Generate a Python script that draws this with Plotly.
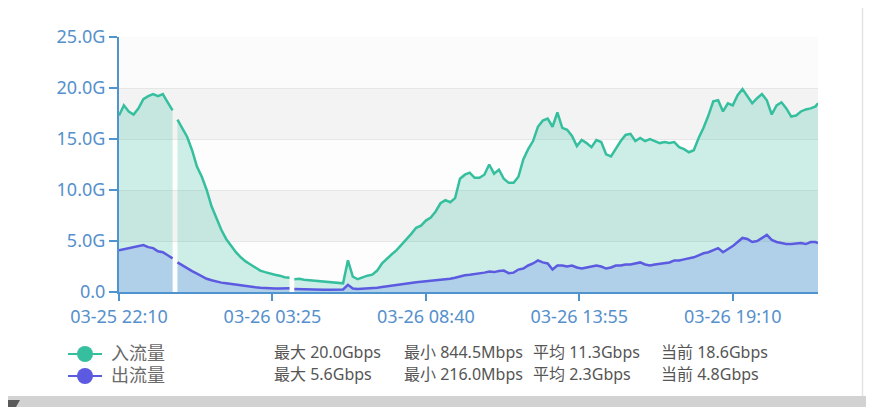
import pandas as pd
import plotly.graph_objects as go

# ---- data (Gbps), 10-minute samples starting 03-25 22:10 ----
# The series has two missing samples (00:05 and 04:05), so it is kept as three segments.
start = pd.Timestamp("2024-03-25 22:10")
seg1_min = list(range(0, 120, 10))
seg2_min = list(range(120, 360, 10))
seg3_min = list(range(360, 1440, 10)) + [1435]

in_seg1 = [17.3, 18.3, 17.7, 17.4, 18.0, 18.9, 19.2, 19.4, 19.2, 19.4, 18.6, 17.8]
in_seg2 = [16.9, 16.1, 15.2, 13.9, 12.3, 11.3, 10.0, 8.4, 7.2, 6.1, 5.2, 4.5,
           3.9, 3.4, 3.0, 2.7, 2.4, 2.1, 1.95, 1.8, 1.7, 1.6, 1.45, 1.4]
in_seg3 = [1.25, 1.3, 1.2, 1.15, 1.1, 1.05, 1.0, 0.95, 0.9, 0.88, 0.85,
           3.1, 1.5, 1.25, 1.45, 1.6, 1.7, 2.1, 2.8, 3.3, 3.7, 4.1, 4.6, 5.2, 5.7, 6.3, 6.5,
           7.0, 7.3, 7.9, 8.7, 9.0, 8.8, 9.2,
           11.1, 11.5, 11.7, 11.2, 11.2, 11.5, 12.5, 11.6, 12.0, 11.1, 10.7, 10.7, 11.3,
           13.0, 14.0, 14.8, 16.2, 16.8, 17.0, 16.2,
           17.6, 16.1, 15.9, 15.3, 14.3, 14.9, 14.6, 14.2, 14.9, 14.7, 13.5, 13.3, 14.1,
           14.8, 15.4, 15.5, 14.8, 15.1, 14.8, 15.0,
           14.8, 14.6, 14.7, 14.6, 14.7, 14.2, 14.0, 13.7, 13.9, 15.1, 16.1, 17.3, 18.7,
           18.8, 17.7, 18.5, 18.3, 19.3, 19.9, 19.2,
           18.5, 19.0, 19.4, 18.8, 17.4, 18.3, 18.6, 18.0, 17.2, 17.3, 17.7, 17.9, 18.0, 18.2,
           18.5]

out_seg1 = [4.1, 4.2, 4.3, 4.4, 4.5, 4.6, 4.4, 4.3, 4.0, 3.9, 3.6, 3.3]
out_seg2 = [2.9, 2.6, 2.3, 2.05, 1.8, 1.55, 1.3, 1.15, 1.0, 0.92, 0.85, 0.78,
            0.7, 0.62, 0.57, 0.5, 0.46, 0.42, 0.38, 0.36, 0.35, 0.35, 0.36, 0.36]
out_seg3 = [0.3, 0.3, 0.28, 0.27, 0.25, 0.24, 0.23, 0.22, 0.24, 0.23, 0.25,
            0.7, 0.35, 0.3, 0.32, 0.34, 0.38, 0.42, 0.48, 0.55, 0.62, 0.7, 0.8, 0.85,
            0.9, 0.95, 1.0, 1.05, 1.08, 1.12, 1.2, 1.25, 1.3, 1.4,
            1.55, 1.65, 1.7, 1.75, 1.8, 1.9, 2.0, 1.95, 2.05, 2.1, 1.85, 1.9, 2.2, 2.3,
            2.6, 2.8, 3.1, 2.9, 2.8, 2.2,
            2.6, 2.6, 2.5, 2.6, 2.4, 2.3, 2.4, 2.5, 2.6, 2.5, 2.3, 2.4, 2.6, 2.6, 2.7,
            2.7, 2.8, 2.9, 2.7, 2.6,
            2.7, 2.75, 2.8, 2.9, 3.1, 3.1, 3.2, 3.3, 3.4, 3.6, 3.8, 3.9, 4.1, 4.3, 3.9,
            4.2, 4.5, 4.9, 5.3, 5.2,
            4.9, 5.0, 5.3, 5.6, 5.1, 4.9, 4.8, 4.7, 4.7, 4.75, 4.8, 4.7, 4.9, 4.9,
            4.8]

y_tickvals = [0, 5, 10, 15, 20, 25]
y_ticktext = ["0.0", "5.0G", "10.0G", "15.0G", "20.0G", "25.0G"]
x_ticklabels = ["03-25 22:10", "03-26 03:25", "03-26 08:40", "03-26 13:55", "03-26 19:10"]

series_names = ["入流量", "出流量"]
stats_in = ["最大 20.0Gbps", "最小 844.5Mbps", "平均 11.3Gbps", "当前 18.6Gbps"]
stats_out = ["最大 5.6Gbps", "最小 216.0Mbps", "平均 2.3Gbps", "当前 4.8Gbps"]

# ---- assemble ----
segments_min = [seg1_min, seg2_min, seg3_min]
in_segments = [in_seg1, in_seg2, in_seg3]
out_segments = [out_seg1, out_seg2, out_seg3]
for m, a, b in zip(segments_min, in_segments, out_segments):
    assert len(m) == len(a) == len(b)

IN_C = "#36bf9f"
OUT_C = "#5b5ae0"
AXIS_C = "#4f93cf"
LABEL_C = "#5590cc"
FONT = "Noto Sans, Noto Sans CJK SC, sans-serif"

fig = go.Figure()
for name, segs, col, fillc in [
    (series_names[0], in_segments, IN_C, "rgba(54,191,160,0.24)"),
    (series_names[1], out_segments, OUT_C, "rgba(100,130,240,0.27)"),
]:
    for m, vals in zip(segments_min, segs):
        times = [start + pd.Timedelta(minutes=t) for t in m]
        fig.add_trace(go.Scatter(x=times, y=vals, mode="lines", name=name,
                                 line=dict(color=col, width=2.5), fill="tozeroy",
                                 fillcolor=fillc))

# page has an 8px body margin, so the figure is drawn offset by 8px
OFF = 8
W, H = 874, 407          # screenshot size
L, R, T, B = 119, 818, 37, 292  # plot area in screenshot pixels
FW, FH = W - OFF, H - OFF


def px(x):
    return (x - L) / (R - L)


def py(y):
    return (B - y) / (B - T)


shapes = []
band_colors = ["#fdfdfd", "#f3f3f3", "#fdfdfd", "#f3f3f3", "#fbfbfb"]
for i, c in enumerate(band_colors):
    shapes.append(dict(type="rect", xref="paper", yref="y", x0=0, x1=1, y0=5 * i, y1=5 * i + 5,
                       fillcolor=c, line=dict(width=0), layer="below"))

# legend glyphs
for row_y, col in [(354, IN_C), (376, OUT_C)]:
    shapes.append(dict(type="line", xref="paper", yref="paper", x0=px(68), x1=px(102),
                       y0=py(row_y), y1=py(row_y), line=dict(color=col, width=2)))
    shapes.append(dict(type="circle", xref="paper", yref="paper", x0=px(77), x1=px(93),
                       y0=py(row_y - 8), y1=py(row_y + 8), fillcolor=col, line=dict(width=0)))

# page frame artefacts
shapes.append(dict(type="line", xref="paper", yref="paper", x0=px(862.5), x1=px(862.5),
                   y0=py(OFF), y1=py(396), line=dict(color="#e3e3e3", width=1.5)))
shapes.append(dict(type="rect", xref="paper", yref="paper", x0=px(OFF), x1=px(W),
                   y0=py(396), y1=py(H), fillcolor="#d2d2d2", line=dict(width=0)))
shapes.append(dict(type="path", xref="paper", yref="paper",
                   path=f"M {px(OFF)},{py(400)} L {px(20)},{py(400)} L {px(16)},{py(407)} L {px(OFF)},{py(407)} Z",
                   fillcolor="#5a5a5a", line=dict(width=0)))

annotations = []
for row_y, name in [(353, series_names[0]), (375, series_names[1])]:
    annotations.append(dict(xref="paper", yref="paper", x=px(109), y=py(row_y), text=name,
                            showarrow=False, xanchor="left", yanchor="middle",
                            font=dict(family=FONT, size=18, color="#6a6a6a")))
stat_x = [272, 402, 531, 659]
for row_y, stats in [(352, stats_in), (374, stats_out)]:
    for sx, s in zip(stat_x, stats):
        annotations.append(dict(xref="paper", yref="paper", x=px(sx), y=py(row_y), text=s,
                                showarrow=False, xanchor="left", yanchor="middle",
                                font=dict(family=FONT, size=16, color="#555555")))

tick_times = [start + pd.Timedelta(minutes=315 * k) for k in range(5)]

fig.update_layout(
    width=FW, height=FH,
    margin=dict(l=L - OFF, r=W - R, t=T - OFF, b=H - B, pad=0, autoexpand=False),
    paper_bgcolor="white", plot_bgcolor="white",
    showlegend=False,
    font=dict(family=FONT),
    shapes=shapes, annotations=annotations,
    xaxis=dict(range=[start, start + pd.Timedelta(minutes=1435)],
               tickvals=tick_times, ticktext=x_ticklabels,
               showgrid=False, zeroline=False, automargin=False,
               showline=True, linecolor=AXIS_C, linewidth=2,
               ticks="outside", ticklen=7, tickcolor=AXIS_C, tickwidth=1.5,
               tickfont=dict(size=18, color=LABEL_C, family=FONT)),
    yaxis=dict(range=[0, 25], tickvals=y_tickvals, ticktext=y_ticktext,
               showgrid=True, gridcolor="#e6e6e6", gridwidth=1, zeroline=False,
               automargin=False,
               showline=True, linecolor=AXIS_C, linewidth=2,
               ticks="outside", ticklen=8, tickcolor=AXIS_C, tickwidth=1.5,
               tickfont=dict(size=18, color=LABEL_C, family=FONT)),
)

fig.write_html("out.html")
